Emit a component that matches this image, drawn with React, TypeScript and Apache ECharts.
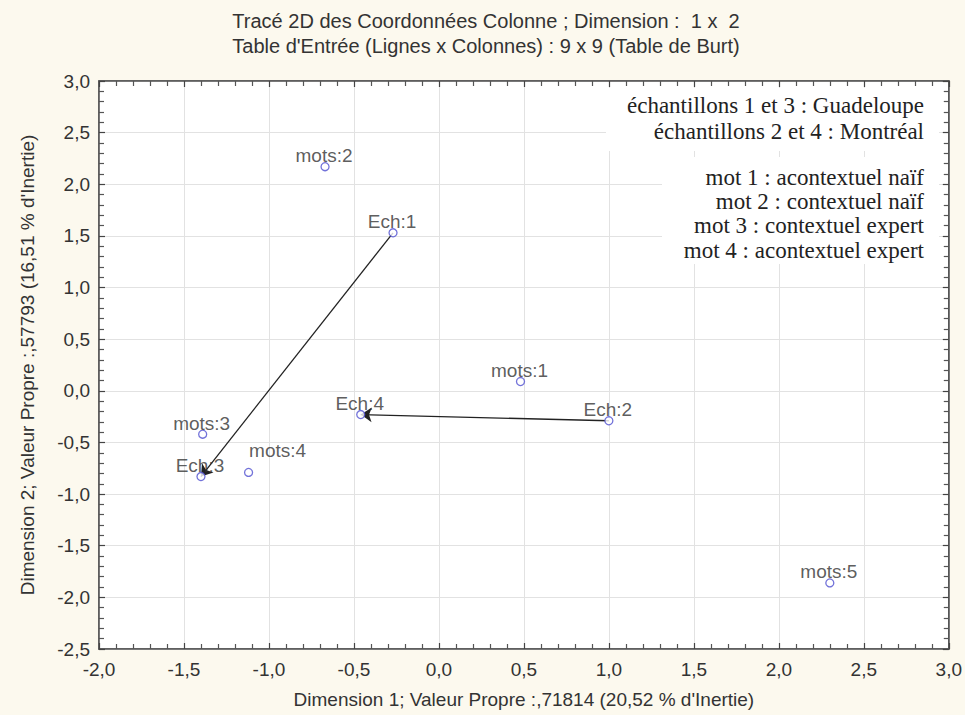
import React, { useEffect, useRef } from "react";
import * as echarts from "echarts";

// ---- data ----
const pointNames = ["mots:1", "mots:2", "mots:3", "mots:4", "mots:5", "Ech:1", "Ech:2", "Ech:3", "Ech:4"];
const dim1Values = [0.48, -0.67, -1.39, -1.12, 2.3, -0.27, 1.0, -1.4, -0.46];
const dim2Values = [0.09, 2.17, -0.42, -0.79, -1.86, 1.53, -0.29, -0.83, -0.23];
const arrowFrom = ["Ech:1", "Ech:2"];
const arrowTo = ["Ech:3", "Ech:4"];

const titleLines = [
  "Tracé 2D des Coordonnées Colonne ; Dimension :  1 x  2",
  "Table d'Entrée (Lignes x Colonnes) : 9 x 9 (Table de Burt)",
];
const legendGroup1 = ["échantillons 1 et 3 : Guadeloupe", "échantillons 2 et 4 : Montréal"];
const legendGroup2 = [
  "mot 1 : acontextuel naïf",
  "mot 2 : contextuel naïf",
  "mot 3 : contextuel expert",
  "mot 4 : acontextuel expert",
];
const xAxisName = "Dimension 1; Valeur Propre :,71814 (20,52 % d'Inertie)";
const yAxisName = "Dimension 2; Valeur Propre :,57793 (16,51 % d'Inertie)";

// ---- styling ----
const SANS = "'Liberation Sans', Arial, sans-serif";
const SERIF = "'Liberation Serif', 'Times New Roman', serif";
const TXT = "#333";
const labelOffsets: Record<string, [number, number]> = {
  "mots:4": [29, -22],
};
const defaultOffset: [number, number] = [-1, -11];

const fmt = (v: number) => v.toFixed(1).replace(".", ",");

export default function App() {
  const ref = useRef<HTMLDivElement>(null);
  useEffect(() => {
    if (!ref.current) return;
    const chart = echarts.init(ref.current, null, { renderer: "svg" });
    const coordOf = (n: string) => {
      const i = pointNames.indexOf(n);
      return [dim1Values[i], dim2Values[i]];
    };
    const data = pointNames.map((n, i) => ({
      name: n,
      value: [dim1Values[i], dim2Values[i]],
      label: { offset: labelOffsets[n] || defaultOffset },
    }));
    const tickCommon = {
      z: 5,
      axisTick: { show: true, inside: true, length: 6, lineStyle: { color: "#444", width: 1.2 } },
      minorTick: { show: true, splitNumber: 5, length: 5, lineStyle: { color: "#555", width: 1.2 } },
      axisLine: { show: true, onZero: false, lineStyle: { color: "#555", width: 1.5 } },
    };
    const legendText = (lines: string[], ys: number[]) =>
      lines.map((t, i) => ({
        type: "text",
        x: 924,
        y: ys[i],
        z: 20,
        style: {
          text: t,
          align: "right",
          verticalAlign: "middle",
          fontFamily: SERIF,
          fontSize: 23,
          fill: "#222",
        },
      }));
    chart.setOption({
      animation: false,
      backgroundColor: "#fcf9ee",
      grid: {
        left: 99,
        right: 16,
        top: 81,
        bottom: 66,
        show: true,
        backgroundColor: "#fff",
        borderColor: "#555",
        borderWidth: 1.5,
      },
      xAxis: [
        {
          type: "value",
          min: -2,
          max: 3,
          interval: 0.5,
          position: "bottom",
          ...tickCommon,
          splitLine: { show: true, lineStyle: { color: "#e2e2e2", width: 1 } },
          axisLabel: { formatter: fmt, fontSize: 19, color: TXT, fontFamily: SANS, margin: 11 },
          name: xAxisName,
          nameLocation: "middle",
          nameGap: 41,
          nameTextStyle: { fontSize: 19, color: TXT, fontFamily: SANS },
        },
        {
          type: "value",
          min: -2,
          max: 3,
          interval: 0.5,
          position: "top",
          ...tickCommon,
          splitLine: { show: false },
          axisLabel: { show: false },
        },
      ],
      yAxis: [
        {
          type: "value",
          min: -2.5,
          max: 3,
          interval: 0.5,
          position: "left",
          ...tickCommon,
          splitLine: { show: true, lineStyle: { color: "#e2e2e2", width: 1 } },
          axisLabel: { formatter: fmt, fontSize: 19, color: TXT, fontFamily: SANS, margin: 9 },
          name: yAxisName,
          nameLocation: "middle",
          nameGap: 62,
          nameRotate: 90,
          nameTextStyle: { fontSize: 19, color: TXT, fontFamily: SANS },
        },
        {
          type: "value",
          min: -2.5,
          max: 3,
          interval: 0.5,
          position: "right",
          ...tickCommon,
          splitLine: { show: false },
          axisLabel: { show: false },
        },
      ],
      graphic: [
        ...titleLines.map((t, i) => ({
          type: "text",
          x: 486,
          y: 21 + i * 25,
          style: {
            text: t,
            align: "center",
            verticalAlign: "middle",
            fontFamily: SANS,
            fontSize: 20,
            fill: TXT,
          },
        })),
        { type: "rect", z: 10, shape: { x: 606, y: 88, width: 333, height: 63 }, style: { fill: "#fff" } },
        { type: "rect", z: 10, shape: { x: 662, y: 157, width: 277, height: 107 }, style: { fill: "#fff" } },
        ...legendText(legendGroup1, [105, 131]),
        ...legendText(legendGroup2, [177, 201, 225, 250]),
      ],
      series: [
        {
          type: "scatter",
          z: 6,
          xAxisIndex: 0,
          yAxisIndex: 0,
          symbol: "circle",
          symbolSize: 8,
          itemStyle: { color: "#fff", borderColor: "#4f4fd0", borderWidth: 1.3 },
          label: {
            show: true,
            position: "inside",
            formatter: "{b}",
            fontSize: 19,
            fontFamily: SANS,
            color: TXT,
          },
          emphasis: { disabled: true },
          data,
          markLine: {
            silent: true,
            symbol: ["none", "arrow"],
            symbolSize: 11,
            label: { show: false },
            lineStyle: { color: "#222", width: 1.3, type: "solid" },
            emphasis: { disabled: true },
            data: arrowFrom.map((f, i) => [{ coord: coordOf(f) }, { coord: coordOf(arrowTo[i]) }]),
          },
        },
      ],
    });
    return () => chart.dispose();
  }, []);
  return (
    <div
      ref={ref}
      style={{ position: "absolute", left: 0, top: 0, width: 965, height: 715 }}
    />
  );
}
